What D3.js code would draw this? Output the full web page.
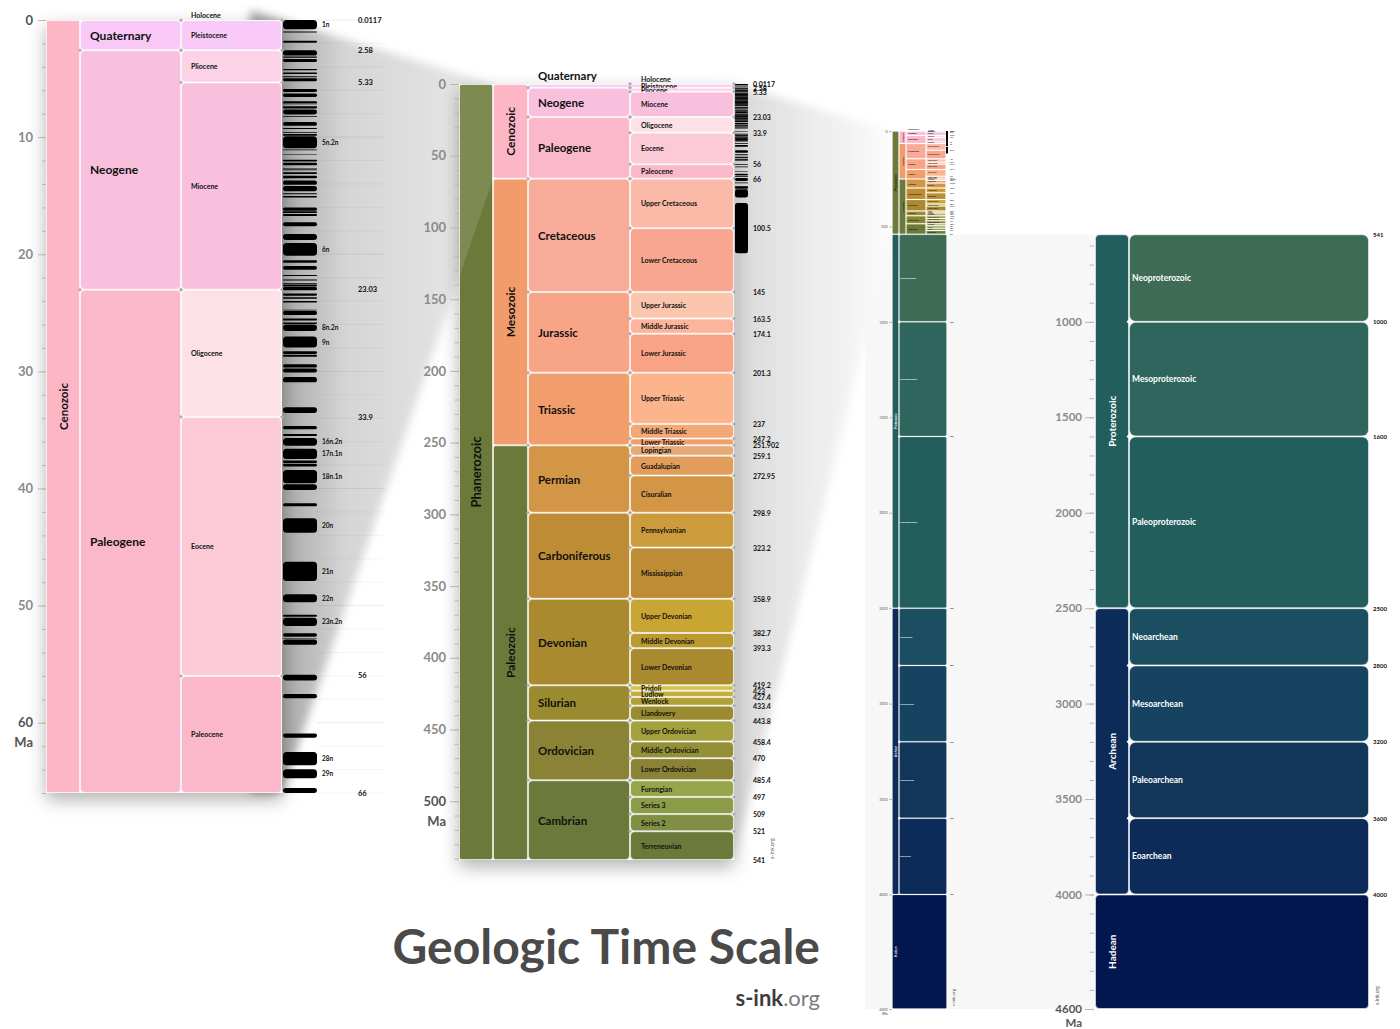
<!DOCTYPE html>
<meta charset="utf-8">
<head>
	<title>Geologic Time Scale</title>
	<script src="https://cdn.jsdelivr.net/npm/d3@7"></script>
	<style>
		body { margin: 0; background: #fff; }
		text { font-family: Lato, "DejaVu Sans", sans-serif; }
	</style>
</head>
<body>
<div id="chart"></div>
<script>
	const width = 1400;
	const height = 1029;

	// [name, start Ma, end Ma, colour]
	const eons = [
		["Phanerozoic", 0, 541, "#6b7a3a"],
		["Proterozoic", 541, 2500, "#225e5e"],
		["Archean", 2500, 4000, "#0c2b58"],
		["Hadean", 4000, 4600, "#02174d"]
	];
	const eras = [
		["Cenozoic", 0, 66, "#fcb6c6"],
		["Mesozoic", 66, 251.902, "#f29c6c"],
		["Paleozoic", 251.902, 541, "#6b7a3a"],
		["Neoproterozoic", 541, 1000, "#3e6b55"],
		["Mesoproterozoic", 1000, 1600, "#2e665e"],
		["Paleoproterozoic", 1600, 2500, "#225e5e"],
		["Neoarchean", 2500, 2800, "#1a4e60"],
		["Mesoarchean", 2800, 3200, "#16435f"],
		["Paleoarchean", 3200, 3600, "#123659"],
		["Eoarchean", 3600, 4000, "#0c2b58"]
	];
	const periods = [
		["Quaternary", 0, 2.58, "#f8c8f6"],
		["Neogene", 2.58, 23.03, "#f9c0de"],
		["Paleogene", 23.03, 66, "#fbb8ca"],
		["Cretaceous", 66, 145, "#f9ab9a"],
		["Jurassic", 145, 201.3, "#f8a587"],
		["Triassic", 201.3, 251.902, "#f19d6c"],
		["Permian", 251.902, 298.9, "#d39546"],
		["Carboniferous", 298.9, 358.9, "#bf8c36"],
		["Devonian", 358.9, 419.2, "#a98a2f"],
		["Silurian", 419.2, 443.8, "#9a8a30"],
		["Ordovician", 443.8, 485.4, "#8a8234"],
		["Cambrian", 485.4, 541, "#6b7a3a"]
	];
	const epochs = [
		["Holocene", 0, 0.0117, "#fde0f7"],
		["Pleistocene", 0.0117, 2.58, "#f9caf8"],
		["Pliocene", 2.58, 5.33, "#fcd3e6"],
		["Miocene", 5.33, 23.03, "#f9c0de"],
		["Oligocene", 23.03, 33.9, "#fde1e7"],
		["Eocene", 33.9, 56, "#fcc9d7"],
		["Paleocene", 56, 66, "#fbb8ca"],
		["Upper Cretaceous", 66, 100.5, "#fbb9a7"],
		["Lower Cretaceous", 100.5, 145, "#f9a690"],
		["Upper Jurassic", 145, 163.5, "#fcc5ae"],
		["Middle Jurassic", 163.5, 174.1, "#fbb59d"],
		["Lower Jurassic", 174.1, 201.3, "#f8a286"],
		["Upper Triassic", 201.3, 237, "#fcb48d"],
		["Middle Triassic", 237, 247.2, "#f3a878"],
		["Lower Triassic", 247.2, 251.902, "#f19d6c"],
		["Lopingian", 251.902, 259.1, "#e6a978"],
		["Guadalupian", 259.1, 272.95, "#e29d5b"],
		["Cisuralian", 272.95, 298.9, "#d39546"],
		["Pennsylvanian", 298.9, 323.2, "#cc9b3b"],
		["Mississippian", 323.2, 358.9, "#bd8c35"],
		["Upper Devonian", 358.9, 382.7, "#c9a633"],
		["Middle Devonian", 382.7, 393.3, "#bb9a30"],
		["Lower Devonian", 393.3, 419.2, "#a98a2f"],
		["Pridoli", 419.2, 423, "#d4c24a"],
		["Ludlow", 423, 427.4, "#c4b03e"],
		["Wenlock", 427.4, 433.4, "#b0a036"],
		["Llandovery", 433.4, 443.8, "#9a8a30"],
		["Upper Ordovician", 443.8, 458.4, "#a5a23e"],
		["Middle Ordovician", 458.4, 470, "#949037"],
		["Lower Ordovician", 470, 485.4, "#8a8234"],
		["Furongian", 485.4, 497, "#97a64b"],
		["Series 3", 497, 509, "#8c9c48"],
		["Series 2", 509, 521, "#808f43"],
		["Terreneuvian", 521, 541, "#6b7a3a"]
	];

	// normal polarity chrons [name, start, end] (Ma)
	const chrons = [
		["1n",0,0.78],["1r.1n",0.99,1.07],["2n",1.77,1.95],["2An.1n",2.581,3.04],["2An.2n",3.11,3.22],
		["2An.3n",3.33,3.58],["3n.1n",4.18,4.29],["3n.2n",4.48,4.62],["3n.3n",4.8,4.89],["3n.4n",4.98,5.23],
		["3An.1n",5.894,6.137],["3An.2n",6.269,6.567],["3Bn",6.935,7.091],["3Br.1n",7.135,7.17],["3Br.2n",7.341,7.375],
		["4n.1n",7.432,7.562],["4n.2n",7.65,8.072],["4r.1n",8.225,8.257],["4An",8.699,9.025],["4Ar.1n",9.23,9.308],
		["4Ar.2n",9.58,9.642],["5n.1n",9.74,9.88],["5n.2n",9.92,10.949],["5r.1n",11.052,11.099],["5r.2n",11.476,11.531],
		["5An.1n",11.935,12.078],["5An.2n",12.184,12.401],["5Ar.1n",12.678,12.708],["5Ar.2n",12.775,12.819],["5AAn",12.991,13.139],
		["5ABn",13.302,13.51],["5ACn",13.703,14.076],["5ADn",14.178,14.612],["5Bn.1n",14.8,14.888],["5Bn.2n",15.034,15.155],
		["5Cn.1n",16.014,16.293],["5Cn.2n",16.327,16.488],["5Cn.3n",16.556,16.726],["5Dn",17.277,17.615],["5En",18.281,18.781],
		["6n",19.048,20.131],["6An.1n",20.518,20.725],["6An.2n",20.996,21.32],["6AAn",21.768,21.859],["6AAr.1n",22.151,22.248],
		["6AAr.2n",22.459,22.493],["6Bn.1n",22.588,22.75],["6Bn.2n",22.804,23.069],["6Cn.1n",23.353,23.535],["6Cn.2n",23.677,23.8],
		["6Cn.3n",23.999,24.118],["7n.1n",24.73,24.781],["7n.2n",24.835,25.183],["7An",25.496,25.648],["8n.1n",25.823,25.951],
		["8n.2n",25.992,26.554],["9n",27.027,27.972],["10n.1n",28.283,28.512],["10n.2n",28.578,28.745],["11n.1n",29.401,29.662],
		["11n.2n",29.765,30.098],["12n",30.479,30.939],["13n",33.058,33.545],["15n",34.655,34.94],["16n.1n",35.343,35.526],
		["16n.2n",35.685,36.341],["17n.1n",36.618,37.473],["17n.2n",37.604,37.848],["17n.3n",37.92,38.113],["18n.1n",38.426,39.552],
		["18n.2n",39.631,40.13],["19n",41.257,41.521],["20n",42.536,43.789],["21n",46.264,47.906],["22n",49.037,49.714],
		["23n.1n",50.778,50.946],["23n.2n",51.047,51.743],["24n.1n",52.364,52.663],["24n.2n",52.757,52.801],["24n.3n",52.903,53.347],
		["25n",55.904,56.391],["26n",57.554,57.911],["27n",60.92,61.276],["28n",62.499,63.634],["29n",63.976,64.745],
		["30n",65.578,67.61],["31n",68.737,69],["32n.1n",71.071,71.338],["32n.2n",71.587,73.004],["32r.1n",73.291,73.374],
		["33n",73.619,79.075],["34n",83,118]
	];
	const chronLabels = ["1n","5n.2n","6n","8n.2n","9n","16n.2n","17n.1n","18n.1n","20n","21n","22n","23n.2n","28n","29n"];

	const yL = d3.scaleLinear().domain([0, 66]).range([20, 793]);
	const yM = d3.scaleLinear().domain([0, 541]).range([84, 860]);
	const yR = d3.scaleLinear().domain([0, 4600]).range([131, 1009]);

	const svg = d3.select("#chart").append("svg")
		.attr("width", width).attr("height", height);
	const defs = svg.append("defs");

	const shadow = defs.append("filter").attr("id", "shadow")
		.attr("x", "-30%").attr("y", "-10%").attr("width", "160%").attr("height", "125%");
	shadow.append("feDropShadow").attr("dx", 0).attr("dy", 7).attr("stdDeviation", 9)
		.attr("flood-color", "#000").attr("flood-opacity", 0.3);
	const blur = defs.append("filter").attr("id", "blur")
		.attr("x", "-20%").attr("y", "-20%").attr("width", "140%").attr("height", "140%");
	blur.append("feGaussianBlur").attr("stdDeviation", 4);

	function gradient(id, x1, x2, stops) {
		const g = defs.append("linearGradient").attr("id", id)
			.attr("gradientUnits", "userSpaceOnUse")
			.attr("x1", x1).attr("x2", x2).attr("y1", 0).attr("y2", 0);
		stops.forEach(s => g.append("stop").attr("offset", s[0]).attr("stop-color", s[1]));
	}
	gradient("cone1", 282, 493, [[0, "#a9a9a9"], [0.3, "#d5d5d5"], [1, "#e9e9e9"]]);
	gradient("cone2", 734, 892, [[0, "#d9d9d9"], [0.5, "#ececec"], [1, "#fcfcfc"]]);

	function drawCells(rows, y, x0, x1, o) {
		const g = svg.append("g");
		const right = d => o.span ? o.span(d) : x1;
		const cells = g.selectAll("g").data(rows).join("g");
		cells.append("rect")
			.attr("x", x0 + 0.5)
			.attr("y", d => y(d[1]) + 0.5)
			.attr("width", d => right(d) - x0 - 1)
			.attr("height", d => Math.max(0.4, y(d[2]) - y(d[1]) - 1))
			.attr("rx", d => Math.min(o.rx, (y(d[2]) - y(d[1])) / 3))
			.attr("fill", d => d[3])
			.attr("stroke", "rgba(255,255,255,0.55)")
			.attr("stroke-width", o.stroke || 1);
		cells.append("text")
			.attr("font-size", o.font)
			.attr("font-weight", 700)
			.attr("fill", d => d[1] >= 541 ? "#fff" : "#111")
			.attr("dominant-baseline", "central")
			.attr("text-anchor", o.rotate ? "middle" : "start")
			.attr("transform", d => {
				const h = y(d[2]) - y(d[1]);
				let cy = (y(d[1]) + y(d[2])) / 2;
				if (d[1] === 0 && h < o.font) cy = y(0) - o.font / 2 - o.font * 0.2;
				const cx = o.rotate ? (x0 + x1) / 2 : x0 + o.dx;
				return `translate(${cx},${cy})` + (o.rotate ? " rotate(-90)" : "");
			})
			.text(d => d[0]);
		if (o.marks) {
			const s = o.marks;
			const pts = rows.filter(d => d[1] > 0)
				.flatMap(d => [[x0, y(d[1]), d], [right(d), y(d[1]), d]]);
			g.append("g").selectAll("path").data(pts).join("path")
				.attr("d", p => `M${p[0]},${p[1] - s}L${p[0] + s},${p[1]}L${p[0]},${p[1] + s}L${p[0] - s},${p[1]}Z`)
				.attr("fill", p => p[2][1] >= 541 ? "#fff" : "#b0b0b0");
		}
		return g;
	}

	function drawStripes(y, x0, x1, maxAge, rx) {
		const rows = chrons.filter(c => c[1] < maxAge);
		const h = d => y(Math.min(d[2], maxAge)) - y(d[1]);
		svg.append("g").selectAll("rect").data(rows).join("rect")
			.attr("x", x0).attr("width", x1 - x0)
			.attr("y", d => y(d[1]))
			.attr("height", d => Math.max(0.7, h(d)))
			.attr("rx", d => Math.min(rx, h(d) / 2))
			.attr("fill", "#000");
	}

	function drawAges(list, y, x, font) {
		svg.append("g").selectAll("text").data(list).join("text")
			.attr("x", x).attr("y", d => y(d))
			.attr("dominant-baseline", "central")
			.attr("font-size", font).attr("font-weight", 700).attr("fill", "#111")
			.text(d => d);
	}

	function axis(y, x, major, minor, font, len, pad, dark, unitDy) {
		const g = svg.append("g").attr("transform", `translate(${x},0)`);
		g.append("g").call(d3.axisLeft(y).tickValues(minor).tickSize(len / 2).tickFormat(""));
		g.append("g").call(d3.axisLeft(y).tickValues(major).tickSize(len).tickPadding(pad)
			.tickFormat(d3.format("d")));
		g.selectAll(".domain").remove();
		g.selectAll("line").attr("stroke", "#b8b8b8");
		g.selectAll("text").attr("font-size", font).attr("font-weight", 700)
			.attr("fill", d => dark.includes(d) ? "#555" : "#8a8a8a");
		const last = major[major.length - 1];
		svg.append("text")
			.attr("x", x - len - pad).attr("y", y(last) + (unitDy || font * 1.5))
			.attr("text-anchor", "end").attr("dominant-baseline", "central")
			.attr("font-size", font).attr("font-weight", 700).attr("fill", "#555")
			.text("Ma");
	}

	function credit(x, y, font) {
		svg.append("text")
			.attr("transform", `translate(${x},${y}) rotate(-90)`)
			.attr("font-size", font).attr("fill", "#555")
			.text("s-ink.org");
	}

	// background of the precambrian zoom and the two zoom cones
	svg.append("rect").attr("x", 865).attr("y", yR(541))
		.attr("width", 1095 - 865).attr("height", yR(4600) - yR(541)).attr("fill", "#f7f7f7");
	const cone2 = [[734, yM(0)], [892, yR(0)], [892, yR(541)], [734, yM(541)]];
	svg.append("polygon").attr("points", cone2.join(" "))
		.attr("fill", "url(#cone2)").attr("filter", "url(#blur)");
	const cone1 = [[250, 10.3], [493, yM(0)], [493, yM(66)], [282, yL(66)], [250, yL(66)]];
	svg.append("polygon").attr("points", cone1.join(" "))
		.attr("fill", "url(#cone1)").attr("filter", "url(#blur)");

	// left gridlines
	svg.append("g").selectAll("line").data(d3.range(0, 67, 2)).join("line")
		.attr("x1", 317).attr("x2", 385)
		.attr("y1", d => yL(d)).attr("y2", d => yL(d))
		.attr("stroke", "#000").attr("stroke-opacity", d => d % 10 === 0 ? 0.07 : 0.04);

	// ---- middle panel: Phanerozoic ----
	svg.append("rect").attr("x", 459).attr("y", yM(0)).attr("width", 734 - 459)
		.attr("height", yM(541) - yM(0)).attr("fill", "#fff").attr("filter", "url(#shadow)");
	const phan = eons.filter(d => d[2] <= 541);
	drawCells(phan, yM, 459, 493, {font: 13, rotate: true, rx: 2});
	drawCells(eras.filter(d => d[2] <= 541), yM, 493, 528, {font: 12, rotate: true, rx: 2});
	drawCells(periods, yM, 528, 630, {font: 11.5, dx: 10, rx: 4, marks: 2});
	drawCells(epochs, yM, 630, 734, {font: 7, dx: 11, rx: 4, marks: 2});
	drawStripes(yM, 735, 748, 541, 2.5);
	drawAges(epochs.map(d => d[2]), yM, 753, 7);
	axis(yM, 459, d3.range(0, 501, 50), d3.range(0, 541, 10), 13, 9, 4, [500]);
	credit(774, 859, 5.5);

	// light overlay of the cone on the Phanerozoic column
	defs.append("clipPath").attr("id", "eonclip").append("rect")
		.attr("x", 459).attr("y", yM(0)).attr("width", 34).attr("height", yM(541) - yM(0));
	svg.append("polygon").attr("points", cone1.join(" "))
		.attr("fill", "#fff").attr("fill-opacity", 0.12).attr("clip-path", "url(#eonclip)");

	// ---- left panel: Cenozoic ----
	svg.append("rect").attr("x", 46).attr("y", yL(0)).attr("width", 282 - 46)
		.attr("height", yL(66) - yL(0)).attr("fill", "#fff").attr("filter", "url(#shadow)");
	drawCells(eras.filter(d => d[2] <= 66), yL, 46, 80, {font: 11.5, rotate: true, rx: 0});
	drawCells(periods.filter(d => d[2] <= 66), yL, 80, 181, {font: 12, dx: 10, rx: 4, marks: 2});
	drawCells(epochs.filter(d => d[2] <= 66), yL, 181, 282, {font: 7, dx: 10, rx: 4, marks: 2});
	drawStripes(yL, 283, 317, 66, 3.5);
	svg.append("g").selectAll("text")
		.data(chrons.filter(c => chronLabels.includes(c[0]))).join("text")
		.attr("x", 322).attr("y", d => yL((d[1] + d[2]) / 2))
		.attr("dominant-baseline", "central")
		.attr("font-size", 6.5).attr("font-weight", 700).attr("fill", "#111")
		.text(d => d[0]);
	drawAges(epochs.filter(d => d[2] <= 66).map(d => d[2]), yL, 358, 7.5);
	axis(yL, 46, d3.range(0, 61, 10), d3.range(0, 67, 2), 13, 8, 5, [0, 60]);

	// ---- thumbnail of the whole column ----
	const hasEras = d => eras.some(e => e[1] >= d[1] && e[2] <= d[2]);
	drawCells(eons, yR, 892, 899, {font: 3, rotate: true, rx: 1, stroke: 0.4,
		span: d => hasEras(d) ? 899 : 947});
	drawCells(eras.filter(d => d[2] <= 541), yR, 899, 906, {font: 2.3, rotate: true, rx: 0.5, stroke: 0.3});
	drawCells(eras.filter(d => d[1] >= 541), yR, 899, 947, {font: 2.3, dx: 1, rx: 1.5, stroke: 0.4, marks: 1.3});
	drawCells(periods, yR, 906, 926, {font: 2.2, dx: 2, rx: 0.5, stroke: 0.3});
	drawCells(epochs, yR, 926, 946, {font: 1.4, dx: 2, rx: 0.5, stroke: 0.3});
	drawStripes(yR, 946, 948, 541, 0.3);
	drawAges(epochs.map(d => d[2]).concat(eras.filter(d => d[1] > 541).map(d => d[1]), [4000]),
		yR, 950, 1.6);
	axis(yR, 892, [0, 500, 1000, 1500, 2000, 2500, 3000, 3500, 4000, 4600], [], 3.6, 3, 1.5, [], 4.5);
	credit(955, 1006, 4.5);

	// ---- right panel: Precambrian ----
	const pre = eons.filter(d => d[1] >= 541);
	drawCells(pre, yR, 1095, 1129, {font: 10, rotate: true, rx: 4,
		span: d => hasEras(d) ? 1129 : 1369});
	drawCells(eras.filter(d => d[1] >= 541), yR, 1129, 1369, {font: 8.5, dx: 3, rx: 6, marks: 2.5});
	drawAges(eras.filter(d => d[1] >= 541).map(d => d[1]).concat([4000]), yR, 1373, 6);
	axis(yR, 1094, [1000, 1500, 2000, 2500, 3000, 3500, 4000, 4600], d3.range(600, 4601, 100),
		11.5, 9, 3, [4600], 13);
	credit(1379, 1005, 5);

	// ---- title ----
	svg.append("text")
		.attr("x", 820).attr("y", 964).attr("text-anchor", "end")
		.attr("font-size", 48).attr("font-weight", 700).attr("fill", "#4a4a4a")
		.text("Geologic Time Scale");
	const site = svg.append("text")
		.attr("x", 820).attr("y", 1006).attr("text-anchor", "end").attr("font-size", 22);
	site.append("tspan").attr("font-weight", 700).attr("fill", "#3c3c3c").text("s-ink");
	site.append("tspan").attr("fill", "#7a7a7a").text(".org");
</script>
</body>
</html>
